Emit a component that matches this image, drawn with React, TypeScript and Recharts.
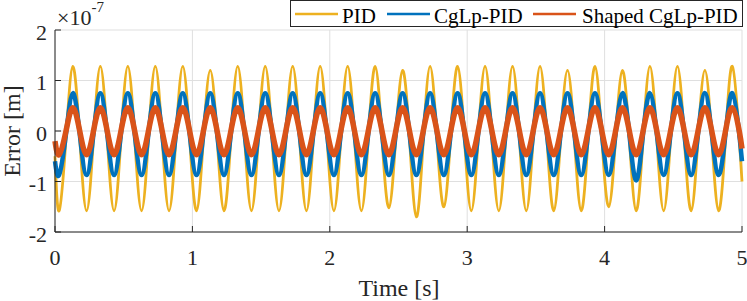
import React from "react";
import { CartesianGrid, Line, LineChart, XAxis, YAxis } from "recharts";

// sample times [s]: troughs, rising mids, peaks, falling mids of each 0.2 s cycle
const time = [
  0,
  0.03, 0.08, 0.13, 0.18, 0.23, 0.28, 0.33, 0.38, 0.43, 0.48, 0.53, 0.58, 0.63, 0.68, 0.73, 0.78, 0.83, 0.88, 0.93, 0.98,
  1.03, 1.08, 1.13, 1.18, 1.23, 1.28, 1.33, 1.38, 1.43, 1.48, 1.53, 1.58, 1.63, 1.68, 1.73, 1.78, 1.83, 1.88, 1.93, 1.98,
  2.03, 2.08, 2.13, 2.18, 2.23, 2.28, 2.33, 2.38, 2.43, 2.48, 2.53, 2.58, 2.63, 2.68, 2.73, 2.78, 2.83, 2.88, 2.93, 2.98,
  3.03, 3.08, 3.13, 3.18, 3.23, 3.28, 3.33, 3.38, 3.43, 3.48, 3.53, 3.58, 3.63, 3.68, 3.73, 3.78, 3.83, 3.88, 3.93, 3.98,
  4.03, 4.08, 4.13, 4.18, 4.23, 4.28, 4.33, 4.38, 4.43, 4.48, 4.53, 4.58, 4.63, 4.68, 4.73, 4.78, 4.83, 4.88, 4.93, 4.98,
  5,
];

// error values in units of 1e-7 m
const pidError = [
  -0.5,
  -1.58, -0.15, 1.28, -0.15, -1.58, -0.15, 1.28, -0.15, -1.58, -0.15, 1.28, -0.15, -1.58, -0.15, 1.28, -0.15, -1.58, -0.15, 1.28, -0.15,
  -1.58, -0.15, 1.2, -0.15, -1.58, -0.15, 1.28, -0.15, -1.58, -0.15, 1.28, -0.15, -1.58, -0.15, 1.28, -0.15, -1.58, -0.15, 1.28, -0.15,
  -1.58, -0.15, 1.28, -0.15, -1.58, -0.15, 1.28, -0.15, -1.52, -0.15, 1.2, -0.15, -1.7, -0.2, 1.28, -0.15, -1.5, -0.1, 1.28, -0.15,
  -1.58, -0.15, 1.28, -0.15, -1.58, -0.15, 1.28, -0.15, -1.58, -0.15, 1.28, -0.15, -1.58, -0.15, 1.2, -0.15, -1.58, -0.15, 1.28, -0.15,
  -1.5, -0.15, 1.2, -0.15, -1.58, -0.15, 1.28, -0.15, -1.58, -0.15, 1.28, -0.15, -1.58, -0.15, 1.2, -0.15, -1.58, -0.15, 1.28, -0.15,
  -1.0,
];

const cglpError = [
  -0.6,
  -0.87, -0.06, 0.75, -0.06, -0.87, -0.06, 0.75, -0.06, -0.87, -0.06, 0.75, -0.06, -0.87, -0.06, 0.75, -0.06, -0.87, -0.06, 0.75, -0.06,
  -0.87, -0.06, 0.75, -0.06, -0.87, -0.06, 0.75, -0.06, -0.87, -0.06, 0.75, -0.06, -0.87, -0.06, 0.75, -0.06, -0.87, -0.06, 0.75, -0.06,
  -0.87, -0.06, 0.75, -0.06, -0.87, -0.06, 0.75, -0.06, -0.87, -0.06, 0.75, -0.06, -0.87, -0.06, 0.75, -0.06, -0.87, -0.06, 0.75, -0.06,
  -0.87, -0.06, 0.75, -0.06, -0.87, -0.06, 0.75, -0.06, -0.87, -0.06, 0.75, -0.06, -0.87, -0.06, 0.75, -0.06, -0.87, -0.06, 0.75, -0.06,
  -0.87, -0.06, 0.75, -0.06, -0.98, -0.06, 0.75, -0.06, -0.87, -0.06, 0.75, -0.06, -0.87, -0.06, 0.75, -0.06, -0.87, -0.06, 0.75, -0.06,
  -0.6,
];

const shapedError = [
  -0.2,
  -0.47, 0.0, 0.46, 0.0, -0.47, 0.0, 0.46, 0.0, -0.47, 0.0, 0.46, 0.0, -0.47, 0.0, 0.46, 0.0, -0.47, 0.0, 0.46, 0.0,
  -0.47, 0.0, 0.46, 0.0, -0.47, 0.0, 0.46, 0.0, -0.47, 0.0, 0.46, 0.0, -0.47, 0.0, 0.46, 0.0, -0.47, 0.0, 0.46, 0.0,
  -0.47, 0.0, 0.46, 0.0, -0.47, 0.0, 0.46, 0.0, -0.47, 0.0, 0.46, 0.0, -0.47, 0.0, 0.46, 0.0, -0.47, 0.0, 0.46, 0.0,
  -0.47, 0.0, 0.46, 0.0, -0.47, 0.0, 0.46, 0.0, -0.47, 0.0, 0.46, 0.0, -0.47, 0.0, 0.46, 0.0, -0.47, 0.0, 0.46, 0.0,
  -0.47, 0.0, 0.46, 0.0, -0.47, 0.0, 0.46, 0.0, -0.47, 0.0, 0.46, 0.0, -0.47, 0.0, 0.46, 0.0, -0.47, 0.0, 0.46, 0.0,
  -0.35,
];

const seriesNames = ["PID", "CgLp-PID", "Shaped CgLp-PID"];
const xTicks = [0, 1, 2, 3, 4, 5];
const yTicks = [-2, -1, 0, 1, 2];

const data = time.map((t, i) => ({
  t,
  pid: pidError[i],
  cglp: cglpError[i],
  shaped: shapedError[i],
}));

const FONT = '"Liberation Serif", "Times New Roman", serif';
const AXIS = "#262626";
const TICK_LEN = 6;

const seriesStyle = [
  { key: "pid", color: "#EDB120", width: 2.8 },
  { key: "cglp", color: "#0072BD", width: 4.5 },
  { key: "shaped", color: "#D95319", width: 5.5 },
];

// legend item offsets (line start, text start) in px
const legendPos = [
  { line: 295, text: 342 },
  { line: 387, text: 434 },
  { line: 533, text: 582 },
];

const textStyle = { fontFamily: FONT };

const BottomTick = ({ x, y, payload }: any) => (
  <g>
    <line x1={x} y1={y} x2={x} y2={y - TICK_LEN} stroke={AXIS} />
    <text x={x} y={y + 33} textAnchor="middle" fontSize={22} style={textStyle} fill={AXIS}>
      {payload.value}
    </text>
  </g>
);

const TopTick = ({ x, y }: any) => <line x1={x} y1={y} x2={x} y2={y + TICK_LEN} stroke={AXIS} />;

const LeftTick = ({ x, y, payload }: any) => (
  <g>
    <line x1={x} y1={y} x2={x + TICK_LEN} y2={y} stroke={AXIS} />
    <text x={x - 8} y={y + 9.5} textAnchor="end" fontSize={22} style={textStyle} fill={AXIS}>
      {payload.value}
    </text>
  </g>
);

const RightTick = ({ x, y }: any) => <line x1={x} y1={y} x2={x - TICK_LEN} y2={y} stroke={AXIS} />;

export default function App() {
  return (
    <div style={{ position: "absolute", left: 0, top: 0, width: 747, height: 301, background: "#fff" }}>
      <LineChart width={747} height={301} data={data} margin={{ top: 30, right: 5, bottom: 0, left: 0 }}>
        <CartesianGrid stroke="#dfdfdf" strokeWidth={1} />
        <XAxis
          dataKey="t"
          type="number"
          domain={[0, 5]}
          ticks={xTicks}
          height={69}
          tickSize={0}
          tickMargin={0}
          tickLine={false}
          axisLine={{ stroke: AXIS }}
          tick={(p: any) => <BottomTick {...p} />}
          interval={0}
        />
        <XAxis
          xAxisId="top"
          orientation="top"
          dataKey="t"
          type="number"
          domain={[0, 5]}
          ticks={xTicks}
          height={0}
          tickSize={0}
          tickMargin={0}
          tickLine={false}
          axisLine={{ stroke: AXIS }}
          tick={(p: any) => <TopTick {...p} />}
          interval={0}
        />
        <YAxis
          type="number"
          domain={[-2, 2]}
          ticks={yTicks}
          width={55}
          tickSize={0}
          tickMargin={0}
          tickLine={false}
          axisLine={{ stroke: AXIS }}
          tick={(p: any) => <LeftTick {...p} />}
          interval={0}
        />
        <YAxis
          yAxisId="right"
          orientation="right"
          type="number"
          domain={[-2, 2]}
          ticks={yTicks}
          width={0}
          tickSize={0}
          tickMargin={0}
          tickLine={false}
          axisLine={{ stroke: AXIS }}
          tick={(p: any) => <RightTick {...p} />}
          interval={0}
        />
        {seriesStyle.map((s, i) => (
          <Line
            key={s.key}
            dataKey={s.key}
            name={seriesNames[i]}
            type="natural"
            stroke={s.color}
            strokeWidth={s.width}
            strokeLinejoin="round"
            dot={false}
            isAnimationActive={false}
          />
        ))}
      </LineChart>
      <svg
        width={747}
        height={301}
        style={{ position: "absolute", left: 0, top: 0, pointerEvents: "none", fontFamily: FONT }}
      >
        <text x={57} y={25} fontSize={22} fill={AXIS}>
          ×10
          <tspan dy={-13} fontSize={15}>
            -7
          </tspan>
        </text>
        <text transform="translate(20,131) rotate(-90)" textAnchor="middle" fontSize={24} fill={AXIS}>
          Error [m]
        </text>
        <text x={399} y={296} textAnchor="middle" fontSize={24} fill={AXIS}>
          Time [s]
        </text>
        <rect x={290.5} y={0.5} width={452} height={26} fill="#fff" stroke={AXIS} />
        {seriesStyle.map((s, i) => (
          <g key={s.key}>
            <line x1={legendPos[i].line} y1={14} x2={legendPos[i].line + 43} y2={14} stroke={s.color} strokeWidth={2.5} />
            <text x={legendPos[i].text} y={22.5} fontSize={21} fill="#000">
              {seriesNames[i]}
            </text>
          </g>
        ))}
      </svg>
    </div>
  );
}
